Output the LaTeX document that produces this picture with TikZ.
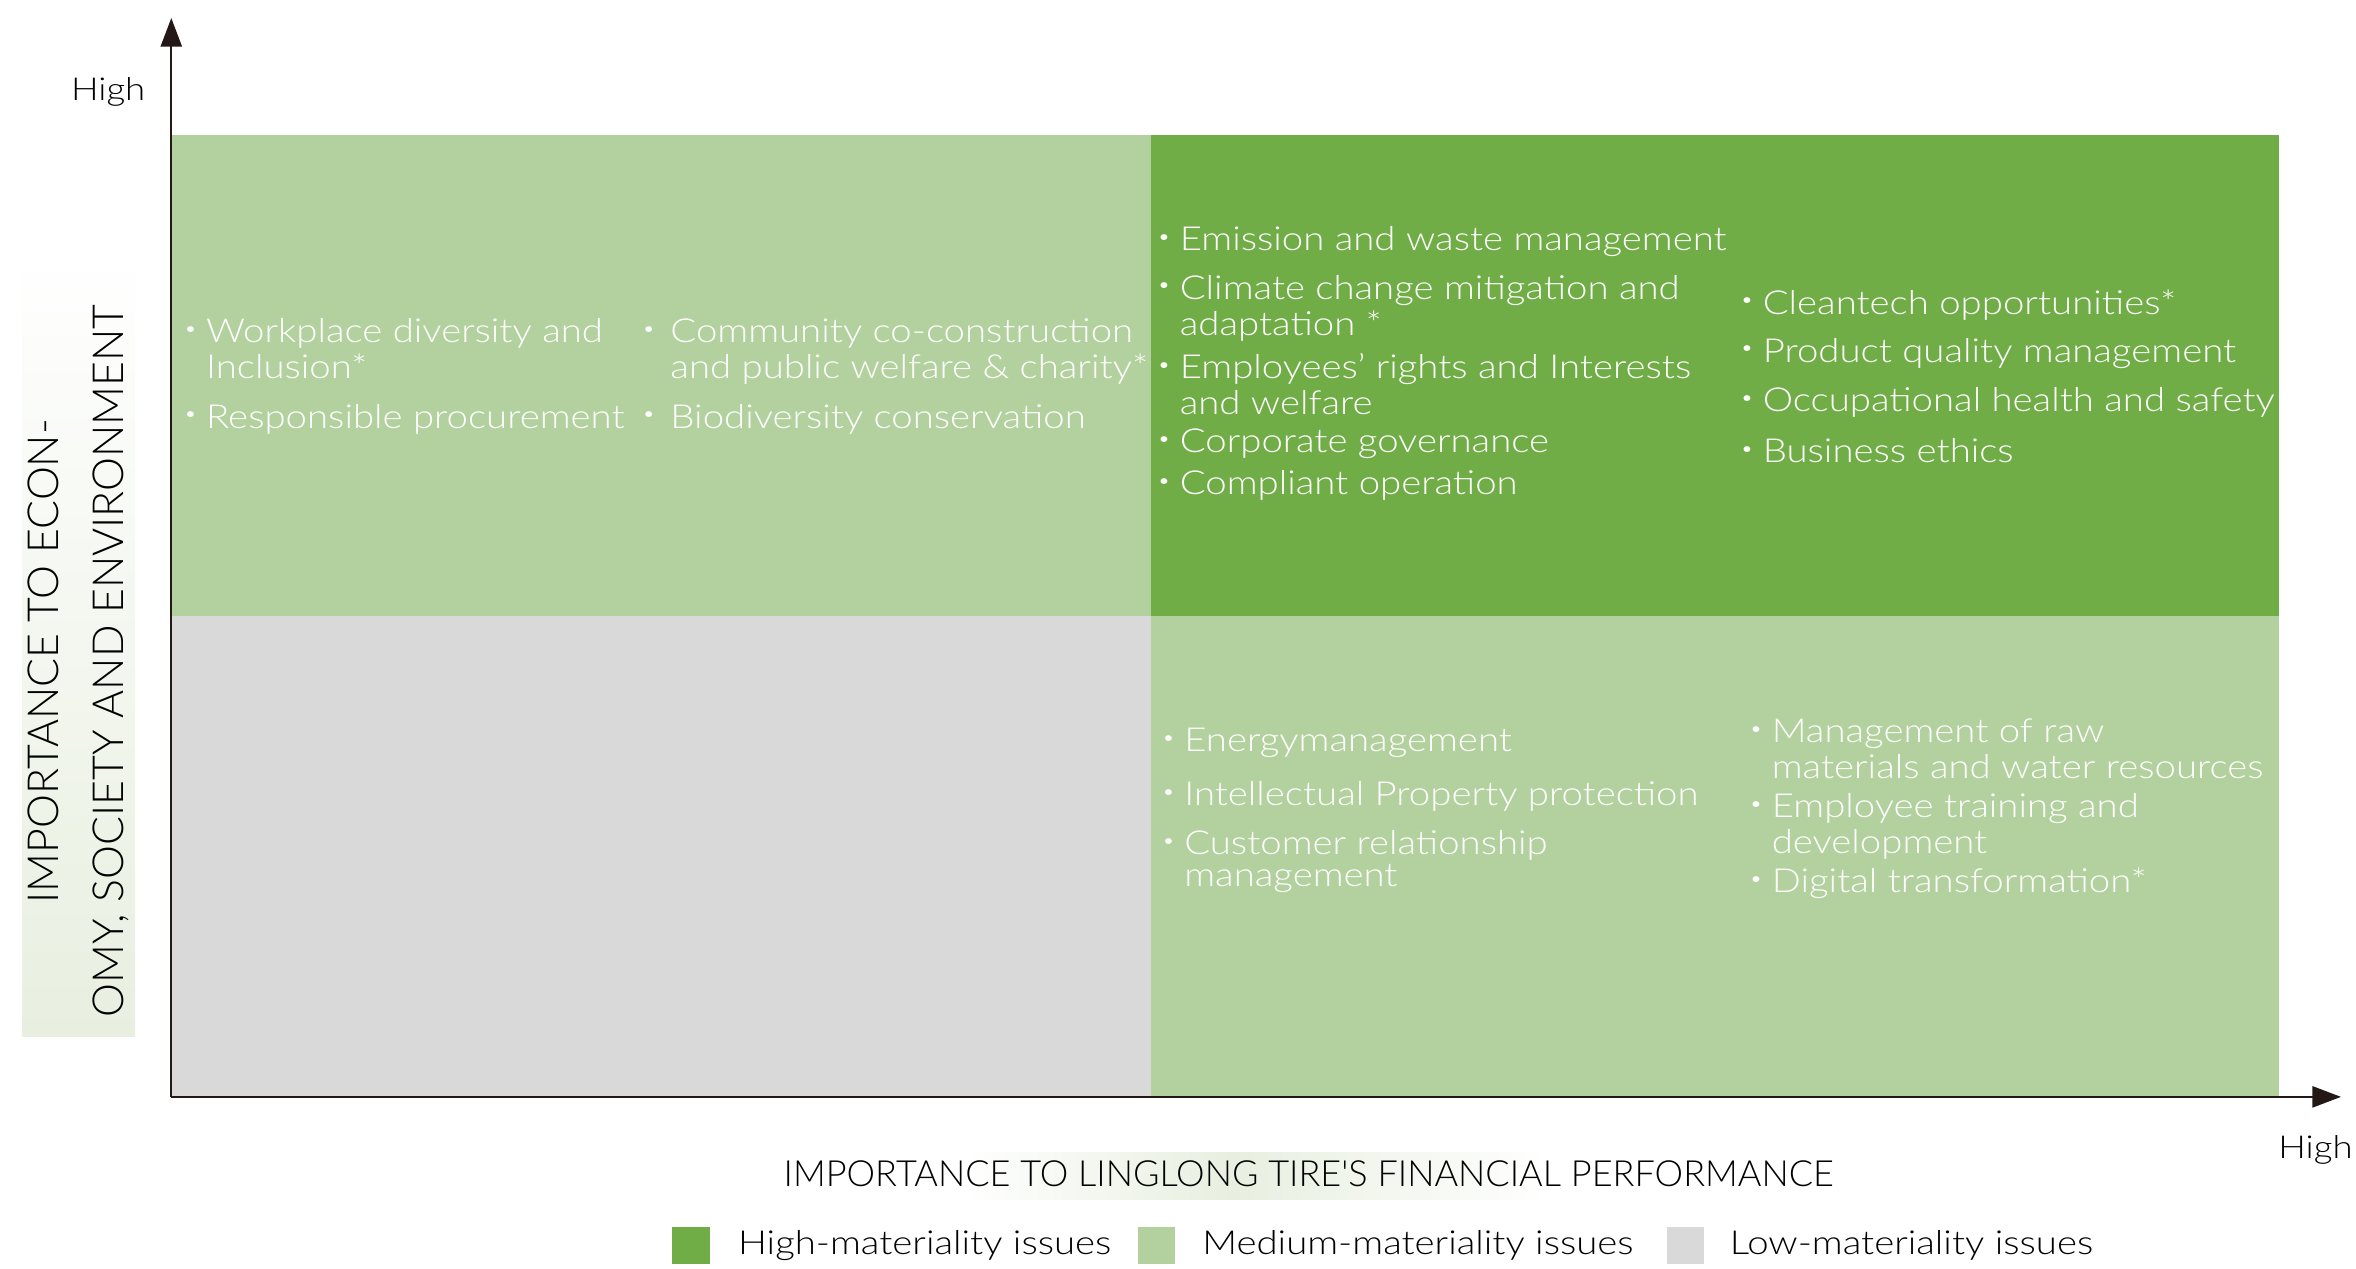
\documentclass[tikz,border=0pt]{standalone}
\usepackage{fontspec}
\usepackage{graphicx}
\setmainfont{Lato}[UprightFont={* Light},FakeStretch=1.16]
\newfontfamily\capsfont{Lato}[UprightFont={* Light}]
\usetikzlibrary{arrows.meta}
\definecolor{hig}{HTML}{70AD47}
\definecolor{med}{HTML}{B3D19E}
\definecolor{low}{HTML}{D9D9D9}
\definecolor{axc}{HTML}{231815}
\definecolor{fade}{HTML}{E8EFE0}
\newcommand{\lst}[2][6pt]{\begin{tabular}[t]{@{}l@{}}\llap{\raisebox{0.22em}{\scalebox{0.6}{\textbullet}}\hspace{#1}}#2\end{tabular}}
\begin{document}
\begin{tikzpicture}[x=1pt,y=-1pt,
  axis/.style={draw=axc,line width=1.5pt,-{Triangle[length=19pt,width=14pt]}},
  item/.style={text=white,inner sep=0pt,anchor=base west,font=\fontsize{22}{24}\selectfont},
  lab/.style={text=black,inner sep=0pt,font=\fontsize{21}{24}\selectfont},
  leg/.style={text=black,inner sep=0pt,anchor=west,font=\fontsize{22}{24}\selectfont},
  sq/.style={minimum width=25pt,minimum height=25pt,inner sep=0pt,anchor=west}]
\useasboundingbox (0,0) rectangle (1568,844);
% faint backgrounds behind axis titles
\shade[top color=white,bottom color=fade] (15,165) rectangle (90,690);
\shade[left color=white,right color=fade] (640,767) rectangle (820,798);
\shade[left color=fade,right color=white] (820,767) rectangle (1030,798);
% quadrants
\fill[med] (114,90) rectangle (766,410);
\fill[hig] (766,90) rectangle (1517,410);
\fill[low] (114,410) rectangle (766,730);
\fill[med] (766,410) rectangle (1517,730);
% axes
\coordinate (O) at (114,730);
\coordinate (ytip) at (114,12);
\coordinate (xtip) at (1558,730);
\draw[axis] (O) -- (ytip);
\draw[axis] (O) -- (xtip);
\node[lab] (yhigh) at (72,61) {High};
\node[lab] (xhigh) at (1541,765) {High};
\node[text=black,inner sep=0pt,rotate=90,align=center,font=\capsfont\fontsize{28.5}{43}\selectfont] (ytitle) at (52,440)
  {IMPORTANCE TO ECON-\\OMY, SOCIETY AND ENVIRONMENT};
\node[text=black,inner sep=0pt,font=\capsfont\fontsize{24}{24}\selectfont] (xtitle) at (871,781)
  {IMPORTANCE TO LINGLONG TIRE'S FINANCIAL PERFORMANCE};
% top-left items
\node[item] (tl1) at (137,228) {\lst{Workplace diversity and\\Inclusion*}};
\node[item] (tl2) at (137,285) {\lst{Responsible procurement}};
\node[item] (tl3) at (446,228) {\lst[10pt]{Community co-construction\\and public welfare \& charity*}};
\node[item] (tl4) at (446,285) {\lst[10pt]{Biodiversity conservation}};
% top-right items
\node[item] (tr1) at (785,167) {\lst{Emission and waste management}};
\node[item] (tr2) at (785,199) {\lst{Climate change mitigation and\\adaptation *}};
\node[item] (tr3) at (785,252) {\lst{Employees’ rights and Interests\\and welfare}};
\node[item] (tr4) at (785,301) {\lst{Corporate governance}};
\node[item] (tr5) at (785,329) {\lst{Compliant operation}};
\node[item] (tr6) at (1173,209) {\lst{Cleantech opportunities*}};
\node[item] (tr7) at (1173,241) {\lst{Product quality management}};
\node[item] (tr8) at (1173,274) {\lst{Occupational health and safety}};
\node[item] (tr9) at (1173,308) {\lst{Business ethics}};
% bottom-right items
\node[item] (br1) at (788,500) {\lst{Energymanagement}};
\node[item] (br2) at (788,536) {\lst{Intellectual Property protection}};
\node[item] (br3) at (788,569) {\lst{Customer relationship\\[-3pt]management}};
\node[item] (br4) at (1179,494) {\lst{Management of raw\\materials and water resources}};
\node[item] (br5) at (1179,544) {\lst{Employee training and\\development}};
\node[item] (br6) at (1179,594) {\lst{Digital transformation*}};
% legend
\node[sq,fill=hig] (lg1) at (447,829) {};
\node[leg] (lt1) at (491,829) {High-materiality issues};
\node[sq,fill=med] (lg2) at (757,829) {};
\node[leg] (lt2) at (800,829) {Medium-materiality issues};
\node[sq,fill=low] (lg3) at (1109,829) {};
\node[leg] (lt3) at (1151,829) {Low-materiality issues};
\end{tikzpicture}
\end{document}
